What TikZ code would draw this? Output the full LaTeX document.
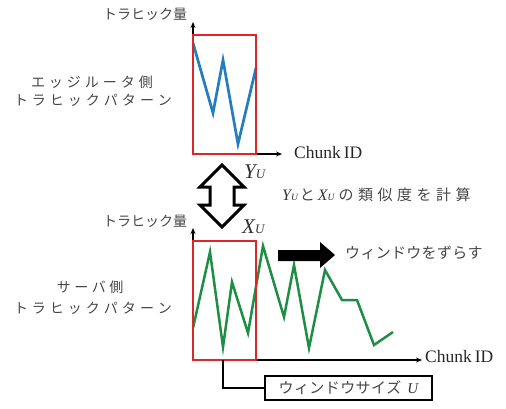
\documentclass[tikz,border=0pt]{standalone}
\usepackage{fontspec}
\setmainfont{Liberation Serif}
\newfontfamily\jp{Noto Sans CJK JP}
\usetikzlibrary{arrows.meta}
\definecolor{jpgray}{RGB}{70,70,70}
\definecolor{boxred}{RGB}{222,38,38}
\definecolor{lineblue}{RGB}{35,125,190}
\definecolor{linegreen}{RGB}{30,142,68}
% letter-spaced text: \spr{kern}{chars}
\def\spr#1#2{\def\sprk{\kern#1}\spra#2\relax}
\def\spra#1{#1\sprb}
\def\sprb#1{\ifx\relax#1\else\sprk#1\expandafter\sprb\fi}
\newcommand\vsub[4]{{\fontsize{#3}{#3}\selectfont\itshape #1}{\fontsize{#4}{#4}\selectfont\itshape #2}}
\begin{document}
\begin{tikzpicture}[x=1pt,y=-1pt,
  axis/.style={line width=1.2pt,-{Stealth[length=6pt,width=5pt]}},
  redbox/.style={draw=boxred,line width=2.5pt,inner sep=0pt,outer sep=0pt},
  jptext/.style={font=\jp\fontsize{14}{14}\selectfont,text=jpgray,inner sep=0pt},
  jpmid/.style={font=\jp\fontsize{15}{15}\selectfont,text=jpgray,inner sep=0pt},
  serif/.style={font=\fontsize{17.5}{17.5}\selectfont,text=black!85,inner sep=0pt},
  varlab/.style={text=black!80,inner sep=0pt},
  bluepat/.style={draw=lineblue,line width=2.7pt,line join=miter},
  greenpat/.style={draw=linegreen,line width=2.5pt,line join=miter},
  bigarrow/.style={draw=black,line width=3pt,fill=white,line join=miter},
  bracket/.style={draw=black,line width=1.8pt}]
\useasboundingbox (0,0) rectangle (506,408);

% ---------- top chart ----------
\coordinate (o1) at (193,154);
\coordinate (y1) at (193,22);
\coordinate (x1) at (282,154);
\draw[axis] (o1) -- (y1);
\draw[axis] (o1) -- (x1);
\draw[bluepat] (193,43) -- (213,113) -- (223,60) -- (238,144) -- (256,68);
\node[redbox,minimum width=63pt,minimum height=119pt,anchor=north west] (win1) at (193,35) {};
\node[jptext] (ylab1) at (145,14) {トラヒック量};
\node[jptext] (side1a) at (92,82) {\spr{4pt}{エッジルータ側}};
\node[jptext] (side1b) at (93,100) {\spr{4pt}{トラヒックパターン}};
\node[serif,anchor=west] (xlab1) at (294,153) {Chunk\kern3pt ID};

% ---------- middle ----------
\draw[bigarrow] (222,165) -- (244,187) -- (234,187) -- (234,205) -- (244,205)
  -- (222,227) -- (200,205) -- (210,205) -- (210,187) -- (200,187) -- cycle;
\node[varlab,anchor=west] (yu) at (244,172) {\vsub{Y}{U}{21}{13}};
\node[varlab,anchor=west] (xu) at (242,227) {\vsub{X}{U}{21}{13}};
\node[jpmid,anchor=west] (sim) at (282,195)
  {{\rmfamily\color{black!80}\vsub{Y}{U}{16}{9.5}}\kern2pt と\kern3pt{\rmfamily\color{black!80}\vsub{X}{U}{16}{9.5}}\kern4pt\spr{4.5pt}{の類似度を計算}};

% ---------- bottom chart ----------
\coordinate (o2) at (193,360);
\coordinate (y2) at (193,228);
\coordinate (x2) at (422,360);
\draw[axis] (o2) -- (y2);
\draw[axis] (o2) -- (x2);
\draw[greenpat] (193,328) -- (210,252) -- (223,347) -- (232,282) -- (248,333)
  -- (263,246) -- (284,317) -- (294,265) -- (309,348) -- (325,270) -- (342,300)
  -- (357,300) -- (374,345) -- (393,332);
\node[redbox,minimum width=63pt,minimum height=119pt,anchor=north west] (win2) at (193,241) {};
\node[jptext] (ylab2) at (145,221) {トラヒック量};
\node[jptext] (side2a) at (90,287) {\spr{3.5pt}{サーバ側}};
\node[jptext] (side2b) at (93,308) {\spr{4pt}{トラヒックパターン}};
\node[serif,anchor=west] (xlab2) at (425,357) {Chunk\kern3pt ID};

\fill[black] (278,250) -- (320,250) -- (320,242) -- (335,255) -- (320,268) -- (320,261) -- (278,261) -- cycle;
\node[jpmid,anchor=west] (slide) at (345,253) {\spr{0.3pt}{ウィンドウをずらす}};

\node[draw=black,line width=2.2pt,fill=white,minimum width=167pt,minimum height=24pt,inner sep=0pt,outer sep=0pt,
  font=\jp\fontsize{15}{15}\selectfont,text=jpgray] (wsz) at (348.5,388)
  {\spr{0.4pt}{ウィンドウサイズ}\kern6pt{\rmfamily\itshape\fontsize{15}{15}\selectfont\color{black!80}U}};
\draw[bracket] (win2.south -| 223,0) |- (wsz.west);
\end{tikzpicture}
\end{document}
